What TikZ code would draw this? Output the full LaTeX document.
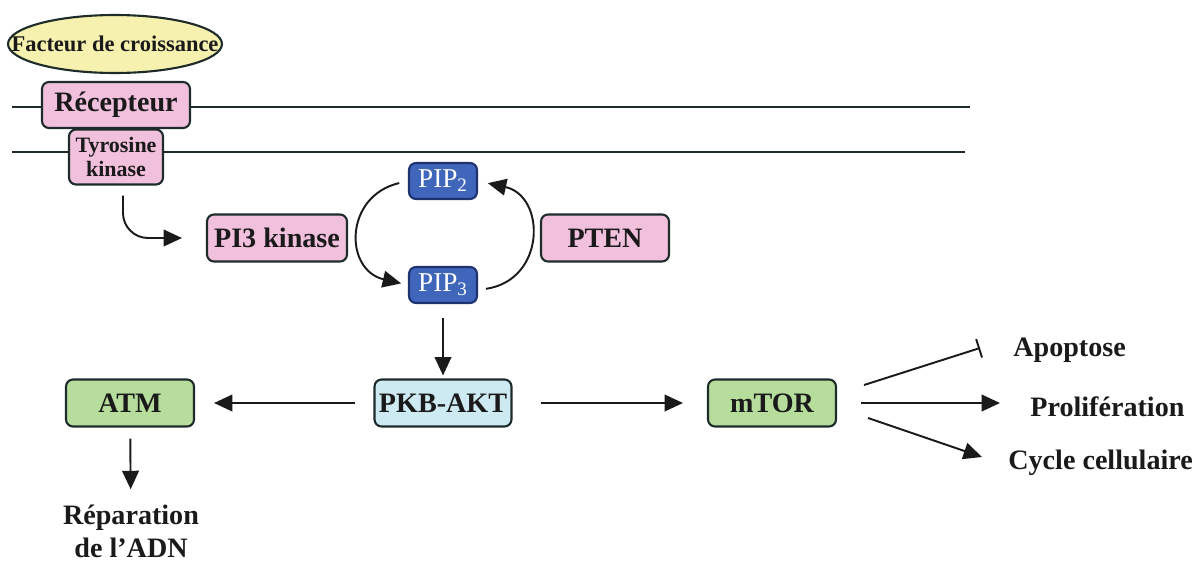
\documentclass[tikz,border=0pt]{standalone}
\usepackage{fontspec}
\setmainfont{Liberation Serif}
\usetikzlibrary{arrows.meta,shapes.geometric}
\definecolor{pinkfill}{HTML}{F1C0DD}
\definecolor{yellowfill}{HTML}{F6F1AE}
\definecolor{pipblue}{HTML}{3F66BA}
\definecolor{pipedge}{HTML}{1F3270}
\definecolor{aktfill}{HTML}{CDE9F1}
\definecolor{greenfill}{HTML}{B6DD9C}
\definecolor{edge}{HTML}{1E2B2B}
\definecolor{ink}{HTML}{1A1A1A}
\tikzset{
  cell/.style={draw=edge, line width=1.2pt, rounded corners=4pt, inner sep=0pt,
               align=center, text=ink, font=\bfseries\fontsize{16}{18}\selectfont},
  pinkcell/.style={cell, fill=pinkfill},
  greencell/.style={cell, fill=greenfill, minimum width=2.56cm, minimum height=0.94cm},
  pipcell/.style={cell, fill=pipblue, draw=pipedge, text=white,
                  font=\fontsize{15.5}{18}\selectfont, minimum width=1.36cm, minimum height=0.72cm},
  outcome/.style={inner sep=0pt, align=center, text=ink, font=\bfseries\fontsize{16}{18.8}\selectfont},
  link/.style={->, line width=1.1pt, draw=ink},
  block/.style={-{Bar[width=11pt]}, line width=1.1pt, draw=ink},
  membrane/.style={line width=1.5pt, draw=edge}
}

\begin{document}
\begin{tikzpicture}[x=0.02cm, y=-0.02cm, >={Triangle[length=10.5pt,width=9.5pt]}]
        \useasboundingbox (0,0) rectangle (1196,565);

        % --- Membrane
        \draw[membrane] (12,107) -- (970,107);
        \draw[membrane] (12,152) -- (965,152);

        % --- Receptor side
        \node[draw=edge, line width=1.2pt, ellipse, fill=yellowfill, inner sep=0pt,
              minimum width=4.28cm, minimum height=1.16cm, text=ink,
              font=\bfseries\fontsize{12.8}{14}\selectfont] (gf) at (115,44)
              {\makebox[0pt]{Facteur de croissance}};
        \node[pinkcell, minimum width=2.96cm, minimum height=0.92cm] (rec) at (116,105) {Récepteur};
        \node[pinkcell, minimum width=1.88cm, minimum height=1.1cm,
              font=\bfseries\fontsize{12.5}{14.2}\selectfont] (tk) at (116,157) {Tyrosine\\kinase};

        % --- PIP cycle
        \node[pinkcell, minimum width=2.8cm, minimum height=0.94cm] (pi3k) at (277,238) {PI3 kinase};
        \node[pinkcell, minimum width=2.56cm, minimum height=0.94cm] (pten) at (605,238) {PTEN};
        \node[pipcell] (pip2) at (443,181) {PIP\textsubscript{2}};
        \node[pipcell] (pip3) at (443,285) {PIP\textsubscript{3}};

        % --- Downstream
        \node[cell, fill=aktfill, minimum width=2.74cm, minimum height=0.94cm] (akt) at (443,403) {PKB-AKT};
        \node[greencell] (atm) at (130,403) {ATM};
        \node[greencell] (mtor) at (772,403) {mTOR};
        \node[outcome] (rep) at (131,531) {Réparation\\de l'ADN};
        \node[outcome, anchor=west] (apo) at (1013,350) {Apoptose};
        \node[outcome, anchor=west] (prol) at (1030,407) {Prolifération};
        \node[outcome, anchor=west] (cyc) at (1008,463) {Cycle cellulaire};
        \coordinate (apoTip) at (980,348);
        \coordinate (prolTip) at (1000,403);
        \coordinate (cycTip) at (982,457);

        % --- Connectors
        \draw[link, rounded corners=0.5cm, shorten <=0.2cm, shorten >=0.48cm]
              ([xshift=0.14cm]tk.south) |- (pi3k.west);
        \draw[link, shorten <=0.18cm, shorten >=0.14cm]
              (pip2.west) .. controls +(-64,15) and +(-64,-15) .. (pip3.west);
        \draw[link, shorten <=0.16cm, shorten >=0.2cm]
              ([yshift=-0.1cm]pip3.east) .. controls +(68,-10) and +(68,15) .. (pip2.east);
        \draw[link, shorten <=0.28cm, shorten >=0.06cm] (pip3) -- (akt);
        \draw[link, shorten <=0.36cm, shorten >=0.38cm] (akt) -- (atm);
        \draw[link, shorten <=0.56cm, shorten >=0.48cm] (akt) -- (mtor);
        \draw[link, shorten <=0.22cm, shorten >=0.3cm] (atm) -- (rep);

        % --- mTOR outputs
        \draw[block] ([shift={(27,-18)}]mtor.east) -- (apoTip);
        \draw[link] ([xshift=0.48cm]mtor.east) -- (prolTip);
        \draw[link] ([shift={(31,15)}]mtor.east) -- (cycTip);

        \end{tikzpicture}
\end{document}
